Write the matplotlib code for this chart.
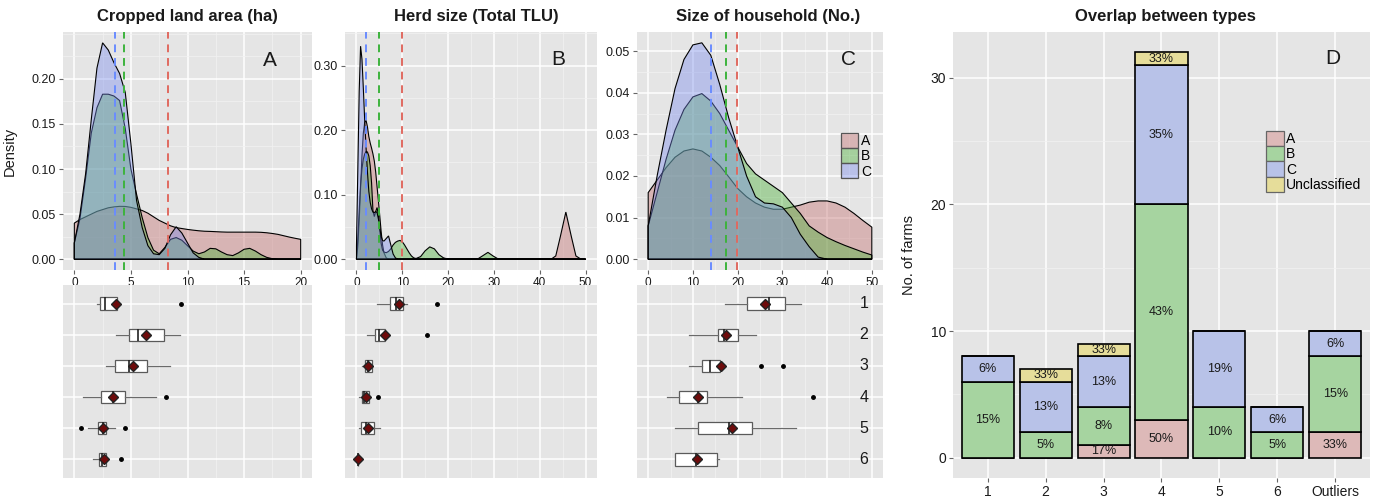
import numpy as np
import matplotlib
matplotlib.use("Agg")
import matplotlib.pyplot as plt
from matplotlib.patches import Patch
from matplotlib.ticker import MultipleLocator, FixedLocator

plt.rcParams['font.family'] = ['Liberation Sans', 'DejaVu Sans']

# ---------------- data ----------------
types = ["A", "B", "C"]

# Panel A: cropped land area density curves
crop_x = [0, 0.5, 1, 1.5, 2, 2.5, 3, 3.5, 4, 4.5, 5, 5.5, 6, 6.5, 7, 7.5, 8, 8.5, 9, 9.5, 10,
          10.5, 11, 11.5, 12, 12.5, 13, 13.5, 14, 14.5, 15, 15.5, 16, 16.5, 17, 17.5, 18, 18.5, 19, 19.5, 20]
crop_A = [0.040, 0.044, 0.047, 0.050, 0.053, 0.055, 0.057, 0.058, 0.0586, 0.0585, 0.0575, 0.0558, 0.054,
          0.051, 0.047, 0.043, 0.040, 0.037, 0.035, 0.034, 0.033, 0.0322, 0.0315, 0.031, 0.0308, 0.0305,
          0.0302, 0.030, 0.030, 0.030, 0.030, 0.030, 0.030, 0.0298, 0.0293, 0.0285, 0.0275, 0.026, 0.0245,
          0.0232, 0.022]
crop_B = [0.018, 0.045, 0.09, 0.14, 0.168, 0.183, 0.183, 0.181, 0.176, 0.145, 0.10, 0.072, 0.046, 0.024,
          0.010, 0.006, 0.013, 0.022, 0.024, 0.021, 0.015, 0.009, 0.006, 0.008, 0.012, 0.0115, 0.008,
          0.005, 0.004, 0.007, 0.011, 0.012, 0.009, 0.005, 0.002, 0.0005, 0, 0, 0, 0, 0]
crop_C = [0.018, 0.05, 0.095, 0.155, 0.212, 0.240, 0.232, 0.218, 0.206, 0.185, 0.128, 0.065, 0.035,
          0.015, 0.006, 0.005, 0.012, 0.027, 0.036, 0.029, 0.018, 0.007, 0.002, 0, 0, 0, 0, 0, 0, 0, 0,
          0, 0, 0, 0, 0, 0, 0, 0, 0, 0]
crop_means = [8.3, 4.35, 3.6]

# Panel B: herd size density curves
herd_x = [0, 0.3, 0.6, 0.9, 1.2, 1.5, 1.8, 2.1, 2.4, 2.7, 3.0, 3.3, 3.6, 3.9, 4.2, 4.5, 4.8, 5.1, 5.4,
          5.7, 6.0, 6.5, 7.0, 7.5, 8.0, 8.5, 9.0, 9.5, 10.0, 10.5, 11.0, 11.5, 12.0, 12.5, 13.0, 14.0,
          15.0, 16.0, 17.0, 18.0, 19.0, 20.0, 25.0, 26.5, 27.5, 28.7, 29.8, 31.0, 42.5, 43.5, 44.5,
          45.7, 46.9, 47.9, 49.0, 50.0]
herd_A = [0.0, 0.02, 0.06, 0.11, 0.16, 0.195, 0.212, 0.215, 0.205, 0.19, 0.18, 0.172, 0.163, 0.152,
          0.135, 0.112, 0.09, 0.066, 0.042, 0.022, 0.01, 0.002, 0, 0, 0, 0, 0, 0, 0, 0, 0, 0, 0, 0, 0,
          0, 0, 0, 0, 0, 0, 0, 0, 0, 0, 0, 0, 0, 0.0, 0.005, 0.035, 0.073, 0.035, 0.005, 0, 0]
herd_B = [0.0, 0.03, 0.075, 0.115, 0.14, 0.155, 0.163, 0.167, 0.166, 0.16, 0.145, 0.118, 0.075, 0.066,
          0.074, 0.08, 0.068, 0.045, 0.024, 0.014, 0.011, 0.010, 0.012, 0.016, 0.022, 0.026, 0.028,
          0.029, 0.027, 0.022, 0.016, 0.010, 0.005, 0.002, 0.001, 0.004, 0.013, 0.019, 0.016, 0.007,
          0.002, 0.0, 0, 0.0005, 0.005, 0.0105, 0.005, 0.0, 0, 0, 0, 0, 0, 0, 0, 0]
herd_C = [0.02, 0.14, 0.26, 0.33, 0.31, 0.265, 0.215, 0.172, 0.135, 0.105, 0.088, 0.078, 0.073, 0.072,
          0.074, 0.072, 0.062, 0.048, 0.035, 0.029, 0.028, 0.032, 0.036, 0.022, 0.008, 0.002, 0, 0, 0,
          0, 0, 0, 0, 0, 0, 0, 0, 0, 0, 0, 0, 0, 0, 0, 0, 0, 0, 0, 0, 0, 0, 0, 0, 0, 0, 0]
herd_means = [9.85, 4.82, 2.19]

# Panel C: household size density curves
size_x = [0, 2, 4, 6, 8, 10, 12, 14, 16, 18, 20, 22, 24, 26, 28, 30, 32, 34, 36, 38, 40, 42, 44, 46, 48, 50]
size_A = [0.016, 0.019, 0.022, 0.0245, 0.026, 0.0265, 0.026, 0.0245, 0.0225, 0.0198, 0.017, 0.015,
          0.0135, 0.0125, 0.012, 0.012, 0.0125, 0.013, 0.0137, 0.014, 0.014, 0.0135, 0.0125, 0.011,
          0.0093, 0.0077]
size_B = [0.008, 0.016, 0.024, 0.031, 0.036, 0.039, 0.0398, 0.038, 0.035, 0.031, 0.027, 0.023, 0.0205,
          0.019, 0.0175, 0.016, 0.0135, 0.011, 0.008, 0.0065, 0.0052, 0.0042, 0.0033, 0.0025, 0.0017,
          0.001]
size_C = [0.008, 0.02, 0.031, 0.041, 0.048, 0.0515, 0.052, 0.049, 0.042, 0.034, 0.027, 0.02, 0.015,
          0.0135, 0.0133, 0.0125, 0.010, 0.006, 0.003, 0.0005, 0, 0, 0, 0, 0, 0]
size_means = [19.9, 17.5, 14.1]

# Boxplots per farm type 1..6
crop_whislo = [2.0, 3.64, 2.81, 0.8, 1.19, 1.63]
crop_q1 = [2.3, 4.83, 3.59, 2.37, 2.1, 2.22]
crop_med = [2.75, 5.63, 4.83, 3.41, 2.52, 2.43]
crop_q3 = [3.76, 7.88, 6.46, 4.44, 2.81, 2.81]
crop_whishi = [4.0, 9.3, 8.47, 7.26, 3.59, 2.81]
crop_mean = [3.7, 6.37, 5.16, 3.41, 2.5, 2.6]
crop_fliers = [[9.4], [], [], [8.12], [0.62, 4.47], [4.09]]

herd_whislo = [4.38, 2.41, 1.31, 0.66, 0.66, 0.25]
herd_q1 = [7.37, 4.01, 1.9, 1.17, 1.1, 0.3]
herd_med = [8.69, 4.82, 2.55, 1.75, 2.0, 0.36]
herd_q3 = [10.15, 6.28, 3.36, 2.63, 3.8, 0.42]
herd_whishi = [11.0, 7.0, 3.36, 2.63, 5.04, 0.5]
herd_mean = [9.34, 6.13, 2.55, 2.1, 2.55, 0.36]
herd_fliers = [[17.6], [15.4], [], [4.67], [], []]

size_whislo = [17.1, 9.1, 9.1, 4.15, 6.1, 6.0]
size_q1 = [22.1, 15.6, 12.1, 7.0, 11.1, 6.0]
size_med = [27.1, 17.0, 13.9, 11.1, 18.0, 10.6]
size_q3 = [30.6, 20.1, 16.0, 13.1, 23.3, 15.3]
size_whishi = [34.1, 24.0, 16.0, 21.0, 33.0, 15.9]
size_mean = [26.2, 17.3, 16.3, 11.2, 18.7, 10.9]
size_fliers = [[], [], [25.3, 30.1], [36.8], [], []]

farm_types = ["1", "2", "3", "4", "5", "6"]

# Panel D: overlap between types
bar_labels = ["1", "2", "3", "4", "5", "6", "Outliers"]
bar_A = [0, 0, 1, 3, 0, 0, 2]
bar_B = [6, 2, 3, 17, 4, 2, 6]
bar_C = [2, 4, 4, 11, 6, 2, 2]
bar_U = [0, 1, 1, 1, 0, 0, 0]
bar_series = ["A", "B", "C", "Unclassified"]

# ---------------- style ----------------
W, H = 1376, 499
BG = '#E5E5E5'
FILL = {'A': (0.76, 0.42, 0.42, 0.4), 'B': (0.27, 0.69, 0.20, 0.4), 'C': (0.47, 0.54, 0.93, 0.4)}
LINE = {'A': '#E06A60', 'B': '#3DB33D', 'C': '#6A8CFF'}
BARC = {'A': '#DDB9B8', 'B': '#A6D4A0', 'C': '#B8C2E8', 'Unclassified': '#E6DD9A'}
TXT = '#1a1a1a'

fig = plt.figure(figsize=(W / 100, H / 100), dpi=100)


def px_axes(x0, y0, x1, y1):
    return fig.add_axes([x0 / W, 1 - y1 / H, (x1 - x0) / W, (y1 - y0) / H])


def style(ax, xmaj, xmin, ymaj=None, ymin=None):
    ax.set_facecolor(BG)
    for s in ax.spines.values():
        s.set_visible(False)
    ax.set_axisbelow(True)
    ax.xaxis.set_major_locator(MultipleLocator(xmaj))
    ax.xaxis.set_minor_locator(MultipleLocator(xmin))
    if ymaj is not None:
        ax.yaxis.set_major_locator(MultipleLocator(ymaj))
        ax.yaxis.set_minor_locator(MultipleLocator(ymin))
    ax.grid(which='major', color='white', lw=1.1)
    ax.grid(which='minor', color='#F2F2F2', lw=0.5)
    ax.tick_params(which='major', length=3, width=0.8, color='#666', pad=2, labelcolor=TXT)
    ax.tick_params(which='minor', length=0)


def density_panel(ax, x, curves, means, xlim, ylim, xmaj, xmin, yticks, ymin, fmt):
    style(ax, xmaj, xmin)
    ax.yaxis.set_major_locator(FixedLocator(yticks))
    ax.yaxis.set_minor_locator(MultipleLocator(ymin))
    for t, y in zip(types, curves):
        xs = [x[0]] + list(x) + [x[-1]]
        ys = [0] + list(y) + [0]
        ax.fill(xs, ys, facecolor=FILL[t], edgecolor='black', lw=0.8, zorder=2)
    for t, m in zip(types, means):
        ax.axvline(m, color=LINE[t], lw=1.4, ls=(0, (4, 3)), zorder=3)
    ax.set_xlim(*xlim)
    ax.set_ylim(*ylim)
    ax.tick_params(axis='x', labelsize=8.5)
    ax.tick_params(axis='y', labelsize=9)
    ax.yaxis.set_major_formatter(plt.FuncFormatter(lambda v, p: fmt.format(v)))


def box_panel(ax, whislo, q1, med, q3, whishi, mean, fliers, xlim, xmaj, xmin):
    style(ax, xmaj, xmin)
    stats = []
    for i in range(len(farm_types)):
        stats.append(dict(whislo=whislo[i], q1=q1[i], med=med[i], q3=q3[i], whishi=whishi[i],
                          mean=mean[i], fliers=fliers[i], label=farm_types[i]))
    kw = dict(positions=list(range(1, 7)), widths=0.4, showmeans=True, patch_artist=True,
              showcaps=False,
              boxprops=dict(facecolor='white', edgecolor='#5a5a5a', lw=0.9),
              medianprops=dict(color='#222222', lw=1.2),
              whiskerprops=dict(color='#6a6a6a', lw=0.9),
              meanprops=dict(marker='D', markerfacecolor='#6E0B0B', markeredgecolor='#222222',
                             markersize=5),
              flierprops=dict(marker='o', markerfacecolor='black', markeredgecolor='black',
                              markersize=2.5))
    try:
        ax.bxp(stats, orientation='horizontal', **kw)
    except TypeError:
        ax.bxp(stats, vert=False, **kw)
    ax.set_xlim(*xlim)
    ax.set_ylim(6.6, 0.4)
    ax.set_yticks(range(1, 7))
    ax.yaxis.set_minor_locator(plt.NullLocator())
    ax.tick_params(axis='both', which='both', length=0, labelleft=False, labelbottom=False)


# ---- Panel A
axA = px_axes(63, 32, 312, 270)
density_panel(axA, crop_x, [crop_A, crop_B, crop_C], crop_means, (-1, 21), (-0.012, 0.252),
              5, 2.5, [0, 0.05, 0.10, 0.15, 0.20], 0.025, '{:.2f}')
axA.set_ylabel('Density', fontsize=10.5, color=TXT)
axA.yaxis.set_label_coords(-0.185, 0.5)
axA.text(0.83, 0.88, 'A', transform=axA.transAxes, fontsize=15, ha='center', va='center', color=TXT)
axA2 = px_axes(63, 285, 312, 478)
box_panel(axA2, crop_whislo, crop_q1, crop_med, crop_q3, crop_whishi, crop_mean, crop_fliers,
          (-1, 21), 5, 2.5)

# ---- Panel B
axB = px_axes(345, 32, 597, 270)
density_panel(axB, herd_x, [herd_A, herd_B, herd_C], herd_means, (-2.5, 52.5), (-0.0168, 0.352),
              10, 5, [0, 0.10, 0.20, 0.30], 0.05, '{:.2f}')
axB.text(0.845, 0.885, 'B', transform=axB.transAxes, fontsize=15, ha='center', va='center', color=TXT)
axB2 = px_axes(345, 285, 597, 478)
box_panel(axB2, herd_whislo, herd_q1, herd_med, herd_q3, herd_whishi, herd_mean, herd_fliers,
          (-2.5, 52.5), 10, 5)

# ---- Panel C
axC = px_axes(637, 32, 883, 270)
density_panel(axC, size_x, [size_A, size_B, size_C], size_means, (-2.5, 52.5), (-0.0026, 0.0546),
              10, 5, [0, 0.01, 0.02, 0.03, 0.04, 0.05], 0.005, '{:.2f}')
axC.text(0.86, 0.885, 'C', transform=axC.transAxes, fontsize=15, ha='center', va='center', color=TXT)
handles = [Patch(facecolor=FILL[t], edgecolor='#555555', lw=0.9, label=t) for t in types]
axC.legend(handles=handles, loc='upper left', bbox_to_anchor=(0.829, 0.576), frameon=False,
           fontsize=10, borderpad=0, borderaxespad=0, handlelength=1.25, handleheight=1.3,
           handletextpad=0.2, labelspacing=0.0)
axC2 = px_axes(637, 285, 883, 478)
box_panel(axC2, size_whislo, size_q1, size_med, size_q3, size_whishi, size_mean, size_fliers,
          (-2.5, 52.5), 10, 5)
for i, lab in enumerate(farm_types):
    axC2.text(48.2, i + 1, lab, fontsize=11.5, ha='center', va='center', color=TXT)

# ---- Panel D
axD = px_axes(953, 32, 1370, 478)
style(axD, 1, 1, 10, 5)
axD.xaxis.set_minor_locator(plt.NullLocator())
pos = np.arange(len(bar_labels))
series = {'A': bar_A, 'B': bar_B, 'C': bar_C, 'Unclassified': bar_U}
bottom = np.zeros(len(bar_labels))
for name in bar_series:
    vals = np.array(series[name], dtype=float)
    total = vals.sum()
    axD.bar(pos, vals, bottom=bottom, width=0.9, color=BARC[name], edgecolor='black', lw=1.2,
            zorder=2)
    for i, v in enumerate(vals):
        if v > 0:
            pct = int(v / total * 100 + 0.5)
            axD.text(pos[i], bottom[i] + v / 2, f'{pct}%', ha='center', va='center', fontsize=9,
                     color=TXT, zorder=3)
    bottom += vals
axD.set_xticks(pos)
axD.set_xticklabels(bar_labels)
axD.set_xlim(-0.6, len(bar_labels) - 0.4)
axD.set_ylim(-1.6, 33.6)
axD.tick_params(axis='both', labelsize=10)
axD.set_ylabel('No. of farms', fontsize=10.5, color=TXT)
axD.yaxis.set_label_coords(-0.089, 0.5)
axD.text(0.91, 0.94, 'D', transform=axD.transAxes, fontsize=15, ha='center', va='center', color=TXT)
handlesD = [Patch(facecolor=BARC[n], edgecolor='#666666', lw=0.9, label=n) for n in bar_series]
axD.legend(handles=handlesD, loc='upper left', bbox_to_anchor=(0.751, 0.778), frameon=False,
           fontsize=10, borderpad=0, borderaxespad=0, handlelength=1.25, handleheight=1.3,
           handletextpad=0.2, labelspacing=0.0)

# ---- Titles
for xc, t in [(187, 'Cropped land area (ha)'), (476, 'Herd size (Total TLU)'),
              (768, 'Size of household (No.)'), (1165, 'Overlap between types')]:
    fig.text(xc / W, 1 - 21 / H, t, ha='center', va='baseline', fontsize=12, fontweight='bold',
             color=TXT)

fig.savefig('out.png', dpi=100, facecolor='white')
